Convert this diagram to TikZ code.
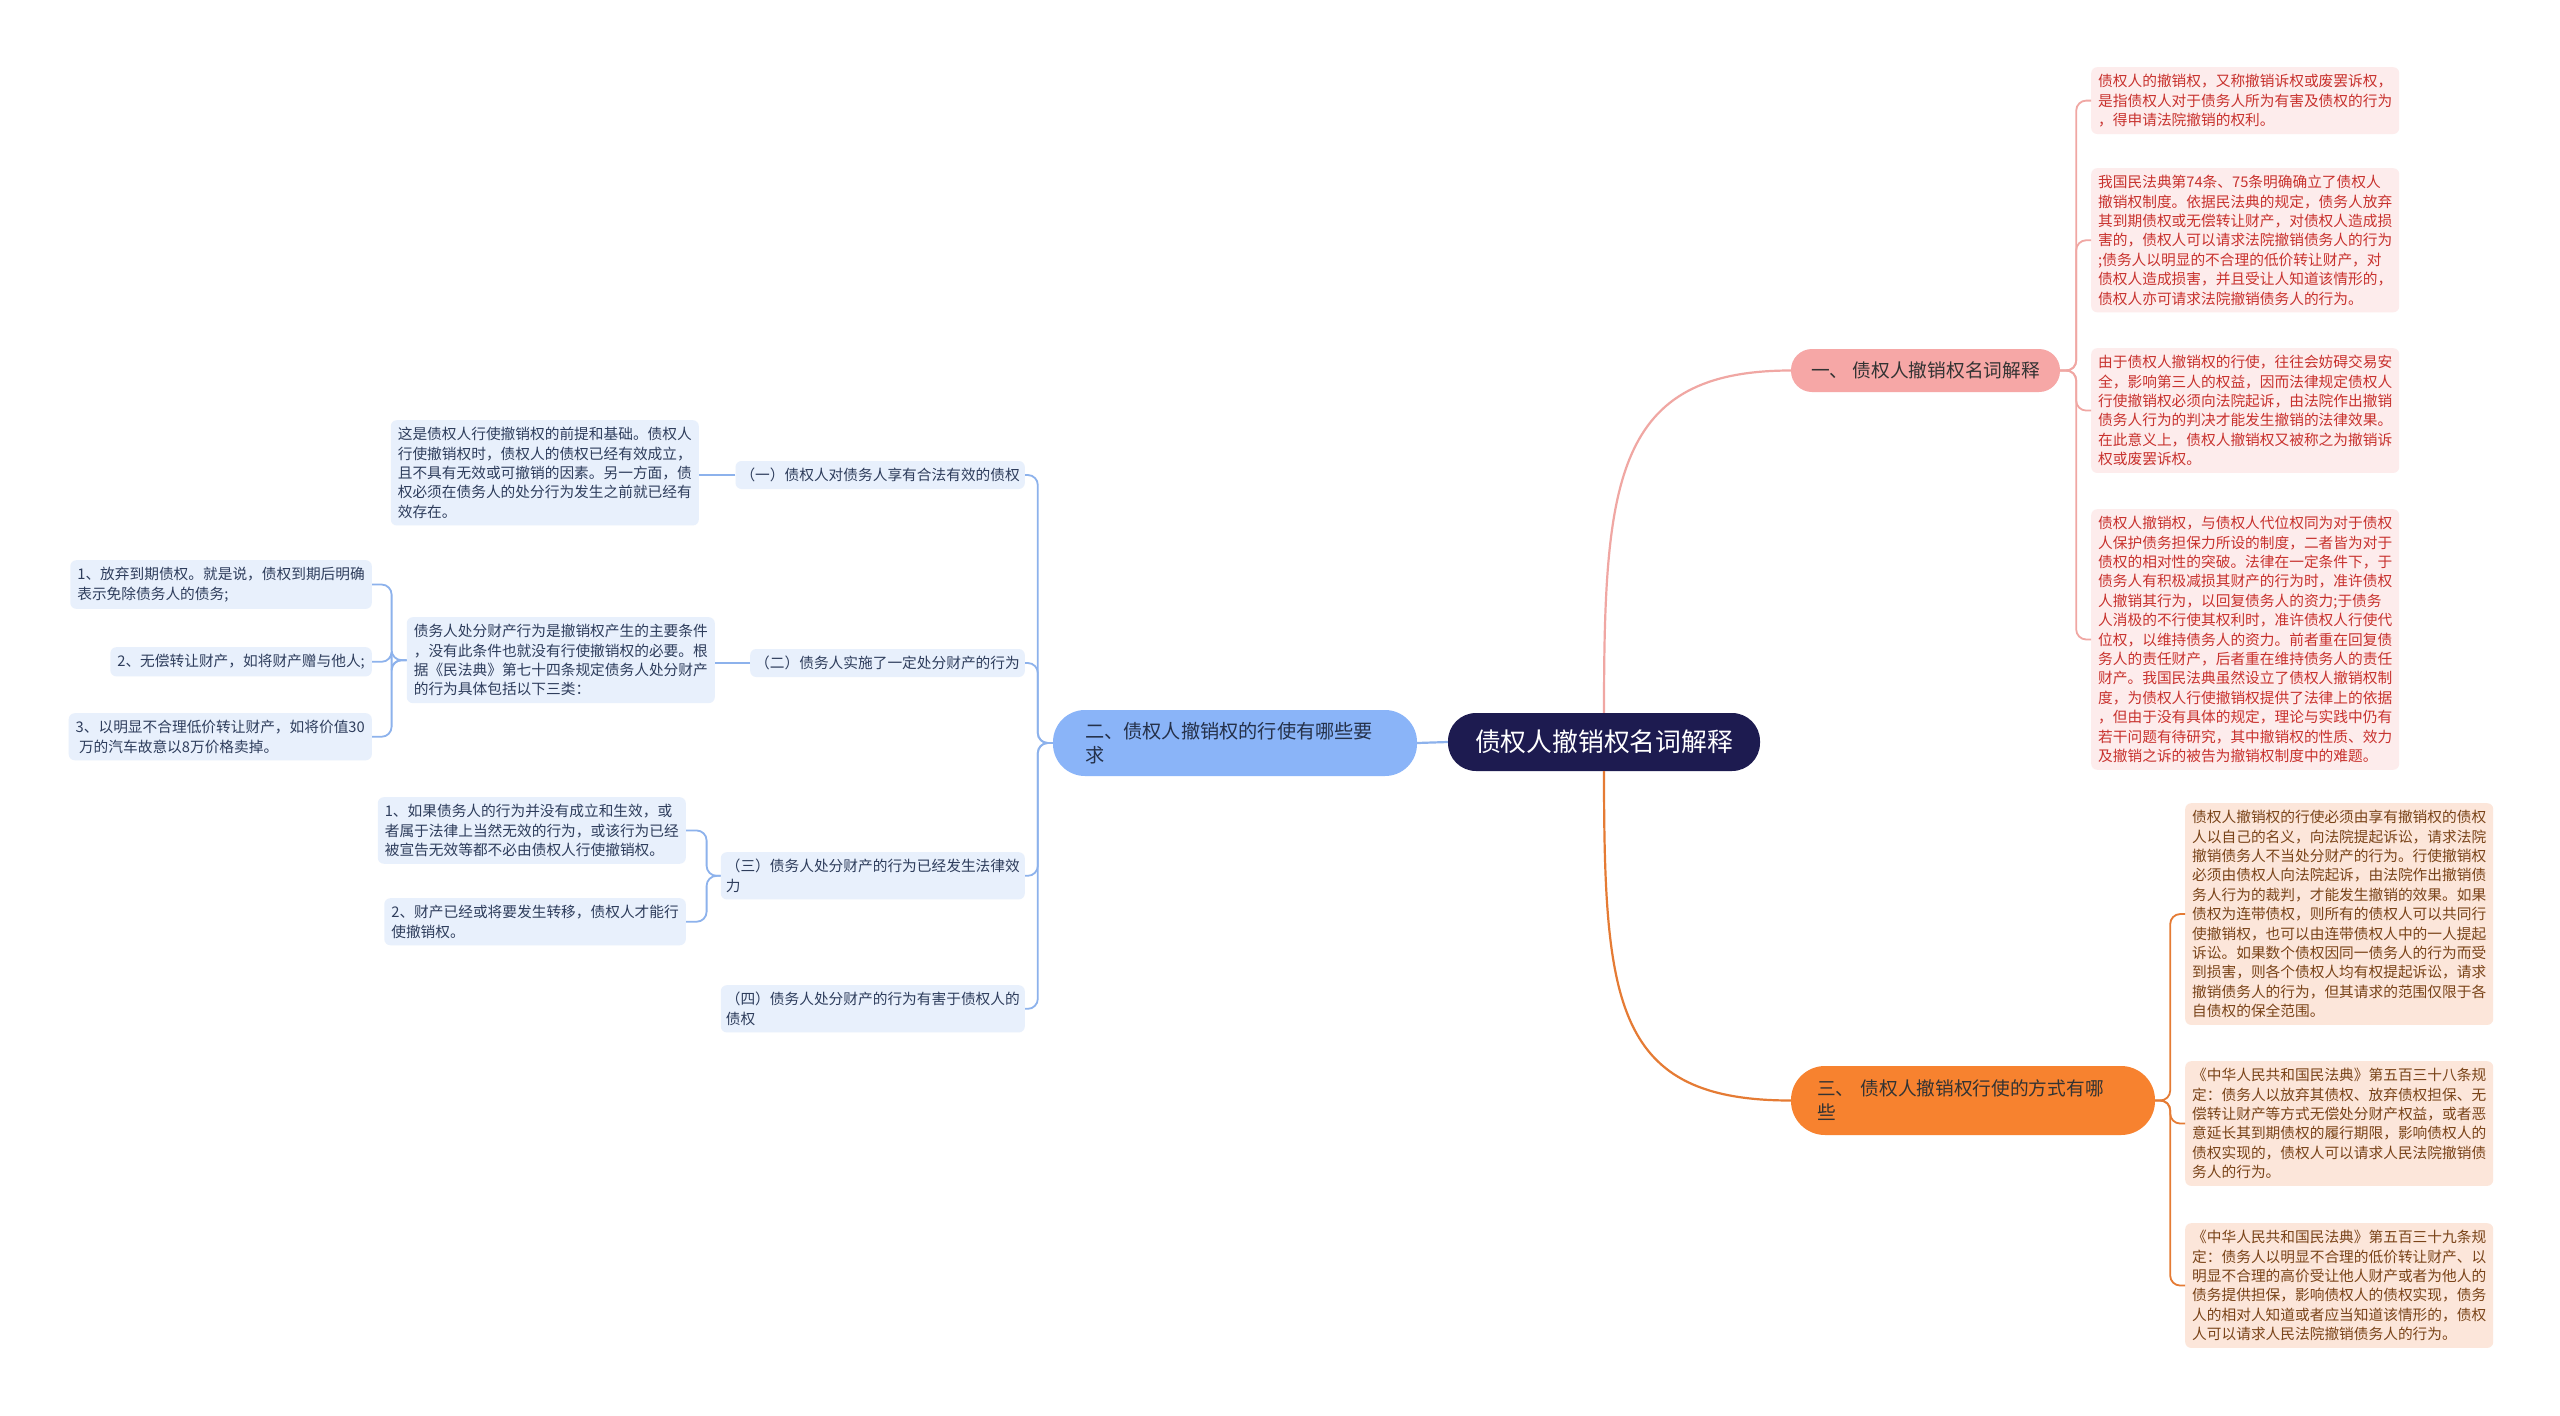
\documentclass[tikz,border=0pt]{standalone}
\usepackage{fontspec}
\setmainfont{Noto Sans CJK SC}
\usepackage{tikz}
\usetikzlibrary{positioning}

\definecolor{rootfill}{HTML}{1D1B50}
\definecolor{twofill}{HTML}{8AB4F8}
\definecolor{bluefill}{HTML}{E8F0FC}
\definecolor{bluetext}{HTML}{2E3D5C}
\definecolor{bluelinecol}{HTML}{8DB2EC}
\definecolor{onefill}{HTML}{F6A7A6}
\definecolor{redfill}{HTML}{FDECEC}
\definecolor{redtext}{HTML}{C8322E}
\definecolor{redlinecol}{HTML}{F0A7A3}
\definecolor{threefill}{HTML}{F7822F}
\definecolor{orangefill}{HTML}{FCE6DA}
\definecolor{orangetext}{HTML}{7A4419}
\definecolor{orangelinecol}{HTML}{E57B34}

\begin{document}
\begin{tikzpicture}[x=1pt,y=-1pt]
  \tikzset{
    leaf/.style={rectangle, rounded corners=6pt, align=left,
      inner xsep=7pt, inner ysep=7pt,
      font=\fontsize{14.7}{19.4}\selectfont},
    redleaf/.style={leaf, fill=redfill, text=redtext},
    orangeleaf/.style={leaf, fill=orangefill, text=orangetext},
    blueleaf/.style={leaf, fill=bluefill, text=bluetext},
    pill/.style={rectangle, inner ysep=4pt},
    bluelink/.style={draw=bluelinecol, line width=1.8pt, rounded corners=10pt},
    redlink/.style={draw=redlinecol, line width=1.8pt, rounded corners=10pt},
    orangelink/.style={draw=orangelinecol, line width=1.8pt, rounded corners=10pt}
  }
  \fill[white] (0,0) rectangle (2560,1416);

  % centre and main branches
  \node[pill, fill=rootfill, text=white, rounded corners=28pt,
    minimum width=312pt, minimum height=58pt,
    font=\fontsize{25.8}{30}\selectfont] (root) at (1604,742) {债权人撤销权名词解释};
  \node[pill, fill=twofill, text=bluetext!80!black, rounded corners=32pt,
    text width=300pt, inner xsep=32pt, minimum height=66pt, align=left,
    font=\fontsize{19.2}{24}\selectfont] (two) at (1235,743)
    {二、债权人撤销权的行使有哪些要\\求};
  \node[pill, fill=onefill, text=black!80, rounded corners=21pt,
    minimum width=269pt, minimum height=43pt,
    font=\fontsize{18.7}{22}\selectfont] (one) at (1925.5,370.5)
    {一、 债权人撤销权名词解释};
  \node[pill, fill=threefill, text=black!80, rounded corners=34pt,
    text width=312pt, inner xsep=26pt, minimum height=69pt, align=left,
    font=\fontsize{18.7}{24}\selectfont] (three) at (1973,1100.5)
    {三、 债权人撤销权行使的方式有哪\\些};

  % right, upper
  \node[redleaf, anchor=north west] (r1) at (2091,67)
    {债权人的撤销权，又称撤销诉权或废罢诉权，\\
     是指债权人对于债务人所为有害及债权的行为\\
     ，得申请法院撤销的权利。};
  \node[redleaf, anchor=north west] (r2) at (2091,168)
    {我国民法典第74条、75条明确确立了债权人\\
     撤销权制度。依据民法典的规定，债务人放弃\\
     其到期债权或无偿转让财产，对债权人造成损\\
     害的，债权人可以请求法院撤销债务人的行为\\
     ;债务人以明显的不合理的低价转让财产，对\\
     债权人造成损害，并且受让人知道该情形的，\\
     债权人亦可请求法院撤销债务人的行为。};
  \node[redleaf, anchor=north west] (r3) at (2091,348)
    {由于债权人撤销权的行使，往往会妨碍交易安\\
     全，影响第三人的权益，因而法律规定债权人\\
     行使撤销权必须向法院起诉，由法院作出撤销\\
     债务人行为的判决才能发生撤销的法律效果。\\
     在此意义上，债权人撤销权又被称之为撤销诉\\
     权或废罢诉权。};
  \node[redleaf, anchor=north west] (r4) at (2091,509)
    {债权人撤销权，与债权人代位权同为对于债权\\
     人保护债务担保力所设的制度，二者皆为对于\\
     债权的相对性的突破。法律在一定条件下，于\\
     债务人有积极减损其财产的行为时，准许债权\\
     人撤销其行为，以回复债务人的资力;于债务\\
     人消极的不行使其权利时，准许债权人行使代\\
     位权，以维持债务人的资力。前者重在回复债\\
     务人的责任财产，后者重在维持债务人的责任\\
     财产。我国民法典虽然设立了债权人撤销权制\\
     度，为债权人行使撤销权提供了法律上的依据\\
     ，但由于没有具体的规定，理论与实践中仍有\\
     若干问题有待研究，其中撤销权的性质、效力\\
     及撤销之诉的被告为撤销权制度中的难题。};

  % right, lower
  \node[orangeleaf, anchor=north west] (o1) at (2185,803)
    {债权人撤销权的行使必须由享有撤销权的债权\\
     人以自己的名义，向法院提起诉讼，请求法院\\
     撤销债务人不当处分财产的行为。行使撤销权\\
     必须由债权人向法院起诉，由法院作出撤销债\\
     务人行为的裁判，才能发生撤销的效果。如果\\
     债权为连带债权，则所有的债权人可以共同行\\
     使撤销权，也可以由连带债权人中的一人提起\\
     诉讼。如果数个债权因同一债务人的行为而受\\
     到损害，则各个债权人均有权提起诉讼，请求\\
     撤销债务人的行为，但其请求的范围仅限于各\\
     自债权的保全范围。};
  \node[orangeleaf, anchor=north west] (o2) at (2185,1061)
    {《中华人民共和国民法典》第五百三十八条规\\
     定：债务人以放弃其债权、放弃债权担保、无\\
     偿转让财产等方式无偿处分财产权益，或者恶\\
     意延长其到期债权的履行期限，影响债权人的\\
     债权实现的，债权人可以请求人民法院撤销债\\
     务人的行为。};
  \node[orangeleaf, anchor=north west] (o3) at (2185,1223)
    {《中华人民共和国民法典》第五百三十九条规\\
     定：债务人以明显不合理的低价转让财产、以\\
     明显不合理的高价受让他人财产或者为他人的\\
     债务提供担保，影响债权人的债权实现，债务\\
     人的相对人知道或者应当知道该情形的，债权\\
     人可以请求人民法院撤销债务人的行为。};

  % left side
  \node[blueleaf, anchor=east, inner xsep=5pt] (a1) at (1025,475)
    {（一）债权人对债务人享有合法有效的债权};
  \node[blueleaf, anchor=east, inner xsep=5pt] (a2) at (1025,663)
    {（二）债务人实施了一定处分财产的行为};
  \node[blueleaf, anchor=north east, inner xsep=5pt] (a3) at (1025,852)
    {（三）债务人处分财产的行为已经发生法律效\\力};
  \node[blueleaf, anchor=north east, inner xsep=5pt] (a4) at (1025,985)
    {（四）债务人处分财产的行为有害于债权人的\\债权};

  \node[blueleaf, anchor=north east] (b1) at (699,420)
    {这是债权人行使撤销权的前提和基础。债权人\\
     行使撤销权时，债权人的债权已经有效成立，\\
     且不具有无效或可撤销的因素。另一方面，债\\
     权必须在债务人的处分行为发生之前就已经有\\
     效存在。};
  \node[blueleaf, anchor=north east] (b2) at (715,617)
    {债务人处分财产行为是撤销权产生的主要条件\\
     ，没有此条件也就没有行使撤销权的必要。根\\
     据《民法典》第七十四条规定债务人处分财产\\
     的行为具体包括以下三类：};
  \node[blueleaf, anchor=north east] (c1) at (372,560)
    {1、放弃到期债权。就是说，债权到期后明确\\
     表示免除债务人的债务;};
  \node[blueleaf, anchor=north east] (c2) at (372,647)
    {2、无偿转让财产，如将财产赠与他人;};
  \node[blueleaf, anchor=north east] (c3) at (372,713)
    {3、以明显不合理低价转让财产，如将价值30\\
     \ 万的汽车故意以8万价格卖掉。};
  \node[blueleaf, anchor=north east] (d1) at (686,797)
    {1、如果债务人的行为并没有成立和生效，或\\
     者属于法律上当然无效的行为，或该行为已经\\
     被宣告无效等都不必由债权人行使撤销权。};
  \node[blueleaf, anchor=north east] (d2) at (686,898)
    {2、财产已经或将要发生转移，债权人才能行\\
     使撤销权。};

  % connectors
  \draw[redlink, line width=2.2pt] (root.north) .. controls (1604,480) and (1615,370.5) .. (one.west);
  \draw[orangelink, line width=2.2pt] (root.south) .. controls (1604,1005) and (1615,1100.5) .. (three.west);
  \draw[bluelink, line width=2.2pt] (root.west) -- (two.east);

  \foreach \n in {r1,r2,r3,r4}
    \draw[redlink] (one.east) -- ++(16,0) |- (\n.west);
  \foreach \n in {o1,o2,o3}
    \draw[orangelink] (three.east) -- ++(15,0) |- (\n.west);
  \foreach \n in {a1,a2,a3,a4}
    \draw[bluelink] (two.west) -- ++(-15,0) |- (\n.east);
  \foreach \n in {c1,c2,c3}
    \draw[bluelink] (b2.west) -- ++(-15,0) |- (\n.east);
  \foreach \n in {d1,d2}
    \draw[bluelink] (a3.west) -- ++(-14,0) |- (\n.east);
  \draw[bluelink] (a1.west) -- (a1.west -| b1.east);
  \draw[bluelink] (a2.west) -- (a2.west -| b2.east);
\end{tikzpicture}
\end{document}
